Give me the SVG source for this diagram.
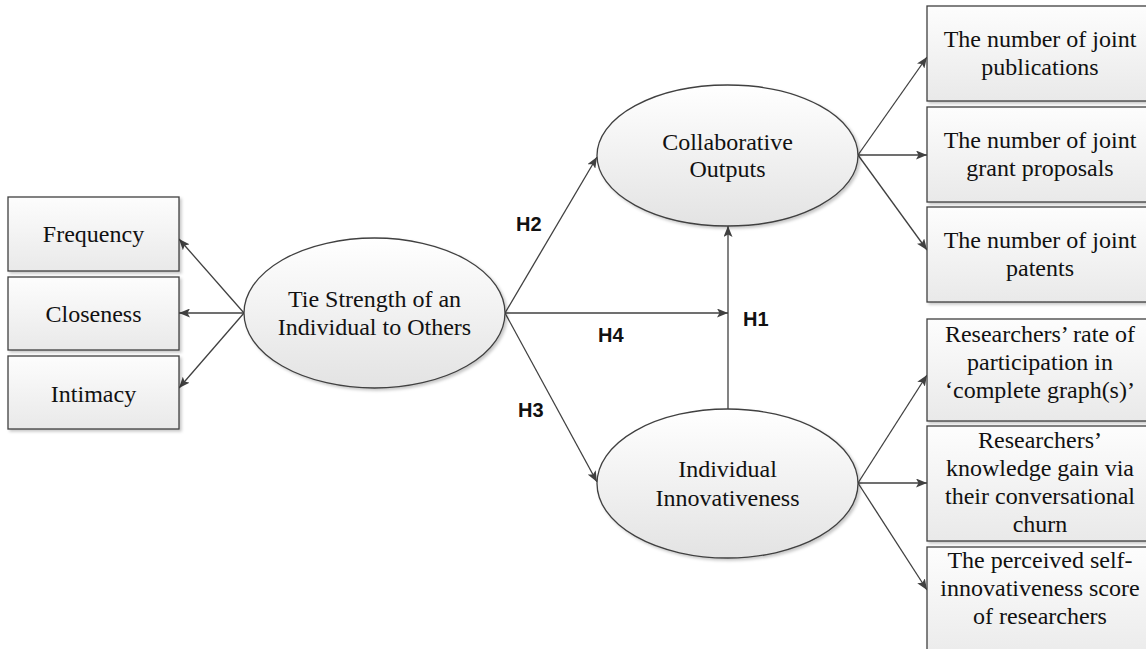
<svg xmlns="http://www.w3.org/2000/svg" width="1146" height="649" viewBox="0 0 1146 649">
<defs>
  <linearGradient id="boxGrad" x1="0" y1="0" x2="0" y2="1">
    <stop offset="0" stop-color="#fdfdfd"/>
    <stop offset="1" stop-color="#e9e9e9"/>
  </linearGradient>
  <linearGradient id="ellGrad" x1="0" y1="0" x2="0" y2="1">
    <stop offset="0" stop-color="#ffffff"/>
    <stop offset="1" stop-color="#e3e3e3"/>
  </linearGradient>
  <filter id="shadow" x="-10%" y="-10%" width="130%" height="130%">
    <feDropShadow dx="2" dy="2" stdDeviation="1.5" flood-color="#000" flood-opacity="0.22"/>
  </filter>
  <marker id="arrow" markerUnits="userSpaceOnUse" markerWidth="11" markerHeight="9" refX="11" refY="4.5" orient="auto">
    <path d="M0,0 L11,4.5 L0,9 L2.5,4.5 z" fill="#404040"/>
  </marker>
  <style>
    .box { fill: url(#boxGrad); stroke: #404040; stroke-width: 1.3; filter: url(#shadow); }
    .ell { fill: url(#ellGrad); stroke: #404040; stroke-width: 1.3; filter: url(#shadow); }
    .t { font-family: "Liberation Serif", "Times New Roman", serif; font-size: 24px; fill: #111; text-anchor: middle; }
    .h { font-family: "Liberation Sans", Arial, sans-serif; font-size: 20px; font-weight: bold; fill: #111; }
    .c { stroke: #404040; stroke-width: 1.3; fill: none; marker-end: url(#arrow); }
  </style>
</defs>
<rect width="1146" height="649" fill="#ffffff"/>

<g id="connectors">
  <line class="c" x1="244" y1="313" x2="179" y2="239"/>
  <line class="c" x1="244" y1="313" x2="179" y2="313"/>
  <line class="c" x1="244" y1="313" x2="179" y2="388"/>
  <line class="c" x1="505" y1="313" x2="597" y2="157"/>
  <line class="c" x1="505" y1="313" x2="728" y2="313"/>
  <line class="c" x1="505" y1="313" x2="597" y2="482"/>
  <line class="c" x1="728" y1="409" x2="728" y2="226"/>
  <line class="c" x1="858" y1="155" x2="927" y2="57"/>
  <line class="c" x1="858" y1="155" x2="927" y2="155"/>
  <line class="c" x1="858" y1="155" x2="927" y2="250"/>
  <line class="c" x1="858" y1="483" x2="927" y2="375"/>
  <line class="c" x1="858" y1="483" x2="927" y2="483"/>
  <line class="c" x1="858" y1="483" x2="927" y2="590"/>
</g>

<g id="frequency">
  <rect class="box" x="8" y="197" width="171" height="74"/>
  <text class="t" x="93.5" y="242">Frequency</text>
</g>
<g id="closeness">
  <rect class="box" x="8" y="277" width="171" height="73"/>
  <text class="t" x="93.5" y="322">Closeness</text>
</g>
<g id="intimacy">
  <rect class="box" x="8" y="356" width="171" height="73"/>
  <text class="t" x="93.5" y="402">Intimacy</text>
</g>

<g id="tie-strength">
  <ellipse class="ell" cx="374.5" cy="313" rx="130.5" ry="75"/>
  <text class="t" x="374.5" y="307">Tie Strength of an</text>
  <text class="t" x="374.5" y="335">Individual to Others</text>
</g>

<g id="collaborative-outputs">
  <ellipse class="ell" cx="727.5" cy="155.5" rx="130.5" ry="70.5"/>
  <text class="t" x="727.5" y="150">Collaborative</text>
  <text class="t" x="727.5" y="177">Outputs</text>
</g>

<g id="individual-innovativeness">
  <ellipse class="ell" cx="727.5" cy="483.5" rx="130.5" ry="74.5"/>
  <text class="t" x="727.5" y="477">Individual</text>
  <text class="t" x="727.5" y="506">Innovativeness</text>
</g>

<g id="labels">
  <text class="h" x="516" y="231">H2</text>
  <text class="h" x="598" y="342">H4</text>
  <text class="h" x="743" y="326">H1</text>
  <text class="h" x="518" y="417">H3</text>
</g>

<g id="joint-publications">
  <rect class="box" x="927" y="6" width="240" height="95"/>
  <text class="t" x="1040" y="47">The number of joint</text>
  <text class="t" x="1040" y="75">publications</text>
</g>
<g id="joint-grants">
  <rect class="box" x="927" y="107" width="240" height="95"/>
  <text class="t" x="1040" y="148">The number of joint</text>
  <text class="t" x="1040" y="176">grant proposals</text>
</g>
<g id="joint-patents">
  <rect class="box" x="927" y="207" width="240" height="95"/>
  <text class="t" x="1040" y="248">The number of joint</text>
  <text class="t" x="1040" y="276">patents</text>
</g>

<g id="participation">
  <rect class="box" x="927" y="319" width="240" height="102"/>
  <text class="t" x="1040" y="342">Researchers’ rate of</text>
  <text class="t" x="1040" y="370">participation in</text>
  <text class="t" x="1040" y="398">‘complete graph(s)’</text>
</g>
<g id="knowledge-gain">
  <rect class="box" x="927" y="426" width="240" height="115"/>
  <text class="t" x="1040" y="448">Researchers’</text>
  <text class="t" x="1040" y="476">knowledge gain via</text>
  <text class="t" x="1040" y="504">their conversational</text>
  <text class="t" x="1040" y="532">churn</text>
</g>
<g id="self-innovativeness">
  <rect class="box" x="927" y="547" width="240" height="120"/>
  <text class="t" x="1040" y="568">The perceived self-</text>
  <text class="t" x="1040" y="596">innovativeness score</text>
  <text class="t" x="1040" y="624">of researchers</text>
</g>
</svg>
